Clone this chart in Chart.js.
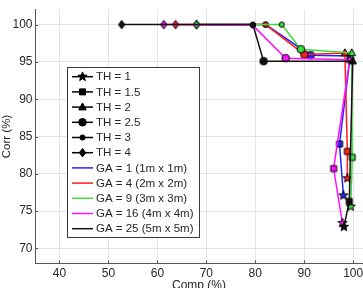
<!DOCTYPE html>
<html><head><meta charset="utf-8">
<script src="https://cdn.jsdelivr.net/npm/chart.js@4/dist/chart.umd.min.js"></script>
<style>html,body{margin:0;padding:0;overflow:hidden;background:#fff}
#wrap{position:relative;width:375px;height:296px}</style>
</head><body><div id="wrap"><canvas id="c" width="375" height="296"></canvas></div>
<script>
// ---- data ----
const thLabels = ['TH = 1','TH = 1.5','TH = 2','TH = 2.5','TH = 3','TH = 4'];
const gaLabels = ['GA = 1 (1m x 1m)','GA = 4 (2m x 2m)','GA = 9 (3m x 3m)','GA = 16 (4m x 4m)','GA = 25 (5m x 5m)'];
// values ordered by threshold: TH=1, 1.5, 2, 2.5, 3, 4
const ga1Comp  = [98.0, 97.2, 99.4, 91.3, 82.1, 68.0];
const ga1Corr  = [77.1, 84.0, 95.8, 95.9, 100.0, 100.0];
const ga4Comp  = [98.8, 98.8, 98.3, 90.0, 82.1, 63.7];
const ga4Corr  = [79.4, 83.0, 96.2, 96.0, 100.0, 100.0];
const ga9Comp  = [99.5, 99.8, 99.7, 89.3, 85.4, 68.0];
const ga9Corr  = [75.6, 82.2, 96.2, 96.7, 100.0, 100.0];
const ga16Comp = [97.8, 96.0, 99.3, 86.2, 79.5, 61.3];
const ga16Corr = [73.4, 80.7, 95.3, 95.5, 99.9, 100.0];
const ga25Comp = [98.1, 99.2, 99.9, 81.7, 79.5, 52.7];
const ga25Corr = [72.9, 76.3, 95.1, 95.1, 100.0, 100.0];
const xTicks = [40, 50, 60, 70, 80, 90, 100];
const yTicks = [70, 75, 80, 85, 90, 95, 100];

// ---- styles ----
const COLORS = ['#2323ff', '#ff1c1c', '#3fdc3f', '#ff12ff', '#111111'];
const ORDERS = [4, 3, 2, 1, 0];
const SHAPES = ['star', 'square', 'triangle', 'circle', 'dot', 'diamond'];
const FONT = '"Liberation Sans", Arial, sans-serif';

function pathShape(g, shape) {
  g.beginPath();
  if (shape === 'star') {
    for (let k = 0; k < 10; k++) {
      const r = k % 2 ? 2.0 : 4.8;
      const a = -Math.PI / 2 + k * Math.PI / 5;
      g.lineTo(r * Math.cos(a), r * Math.sin(a));
    }
    g.closePath();
  } else if (shape === 'square') {
    g.rect(-3, -3, 6, 6);
  } else if (shape === 'triangle') {
    g.moveTo(0, -4.2); g.lineTo(3.8, 2.8); g.lineTo(-3.8, 2.8); g.closePath();
  } else if (shape === 'circle') {
    g.arc(0, 0, 3.8, 0, Math.PI * 2);
  } else if (shape === 'dot') {
    g.arc(0, 0, 2.6, 0, Math.PI * 2);
  } else if (shape === 'diamond') {
    g.moveTo(0, -4.2); g.lineTo(3.2, 0); g.lineTo(0, 4.2); g.lineTo(-3.2, 0); g.closePath();
  }
}
function drawMarker(g, shape, x, y, fill) {
  g.save(); g.translate(x, y);
  pathShape(g, shape);
  g.fillStyle = fill; g.fill();
  g.lineWidth = 1; g.strokeStyle = '#000'; g.stroke();
  g.restore();
}
function makeMarker(shape, fill) {
  const c = document.createElement('canvas'); c.width = 12; c.height = 12;
  drawMarker(c.getContext('2d'), shape, 6, 6, fill);
  return c;
}

const comps = [ga1Comp, ga4Comp, ga9Comp, ga16Comp, ga25Comp];
const corrs = [ga1Corr, ga4Corr, ga9Corr, ga16Corr, ga25Corr];
const datasets = gaLabels.map((lab, i) => ({
  label: lab,
  data: comps[i].map((v, k) => ({ x: v, y: corrs[i][k] })),
  showLine: true,
  borderColor: COLORS[i],
  borderWidth: 1.5,
  tension: 0,
  pointStyle: SHAPES.map(s => makeMarker(s, COLORS[i])),
  pointRadius: 4,
  order: ORDERS[i],
  clip: false
}));

const innerTicks = {
  id: 'innerTicks',
  afterDraw(chart) {
    const { ctx, chartArea: a, scales } = chart;
    ctx.save();
    ctx.strokeStyle = '#555'; ctx.lineWidth = 1;
    xTicks.forEach(t => {
      const x = Math.round(scales.x.getPixelForValue(t)) + 0.5;
      ctx.beginPath(); ctx.moveTo(x, a.bottom); ctx.lineTo(x, a.bottom - 3); ctx.stroke();
    });
    yTicks.forEach(t => {
      const y = Math.round(scales.y.getPixelForValue(t)) + 0.5;
      ctx.beginPath(); ctx.moveTo(a.left, y); ctx.lineTo(a.left + 3, y); ctx.stroke();
    });
    ctx.restore();
  }
};

const boxLegend = {
  id: 'boxLegend',
  afterDraw(chart) {
    const ctx = chart.ctx;
    const bx = 67.5, by = 67.5, bw = 132, bh = 170;
    ctx.save();
    ctx.fillStyle = '#fff'; ctx.fillRect(bx, by, bw, bh);
    ctx.strokeStyle = '#3a3a3a'; ctx.lineWidth = 1; ctx.strokeRect(bx, by, bw, bh);
    const entries = thLabels.map((t, k) => ({ text: t, color: '#000', shape: SHAPES[k] }))
      .concat(gaLabels.map((t, i) => ({ text: t, color: COLORS[i], shape: null })));
    ctx.font = '11.5px ' + FONT;
    ctx.textBaseline = 'middle';
    entries.forEach((e, k) => {
      const y = 76.7 + k * 15.2;
      ctx.strokeStyle = e.color; ctx.lineWidth = 1.5;
      ctx.beginPath(); ctx.moveTo(72, y); ctx.lineTo(93, y); ctx.stroke();
      if (e.shape) drawMarker(ctx, e.shape, 82.5, y, '#000');
      ctx.fillStyle = '#262626';
      ctx.fillText(e.text, 96, y + 0.5);
    });
    ctx.restore();
  }
};

new Chart(document.getElementById('c'), {
  type: 'scatter',
  data: { datasets },
  options: {
    responsive: false,
    animation: false,
    layout: { padding: { top: 4.7, right: 12, bottom: 0, left: 0 } },
    plugins: { legend: { display: false }, tooltip: { enabled: false } },
    scales: {
      x: {
        type: 'linear', min: 35, max: 102,
        afterBuildTicks: s => { s.ticks = xTicks.map(v => ({ value: v })); },
        afterFit: s => { s.height = 32.7; },
        grid: { color: '#e4e4e4', drawTicks: false },
        border: { color: '#555', width: 1 },
        ticks: { padding: 3, color: '#262626', font: { family: FONT, size: 12 }, maxRotation: 0 },
        title: { display: true, text: 'Comp (%)', color: '#262626', font: { family: FONT, size: 12 }, padding: { top: 0, bottom: 3 } }
      },
      y: {
        type: 'linear', min: 68, max: 102,
        afterBuildTicks: s => { s.ticks = yTicks.map(v => ({ value: v })); },
        afterFit: s => { s.width = 35; },
        grid: { color: '#e4e4e4', drawTicks: false },
        border: { color: '#555', width: 1 },
        ticks: { padding: 2.5, color: '#262626', font: { family: FONT, size: 12 } },
        title: { display: true, text: 'Corr (%)', color: '#262626', font: { family: FONT, size: 11.5 }, padding: 0 }
      }
    }
  },
  plugins: [innerTicks, boxLegend]
});
</script></body></html>
